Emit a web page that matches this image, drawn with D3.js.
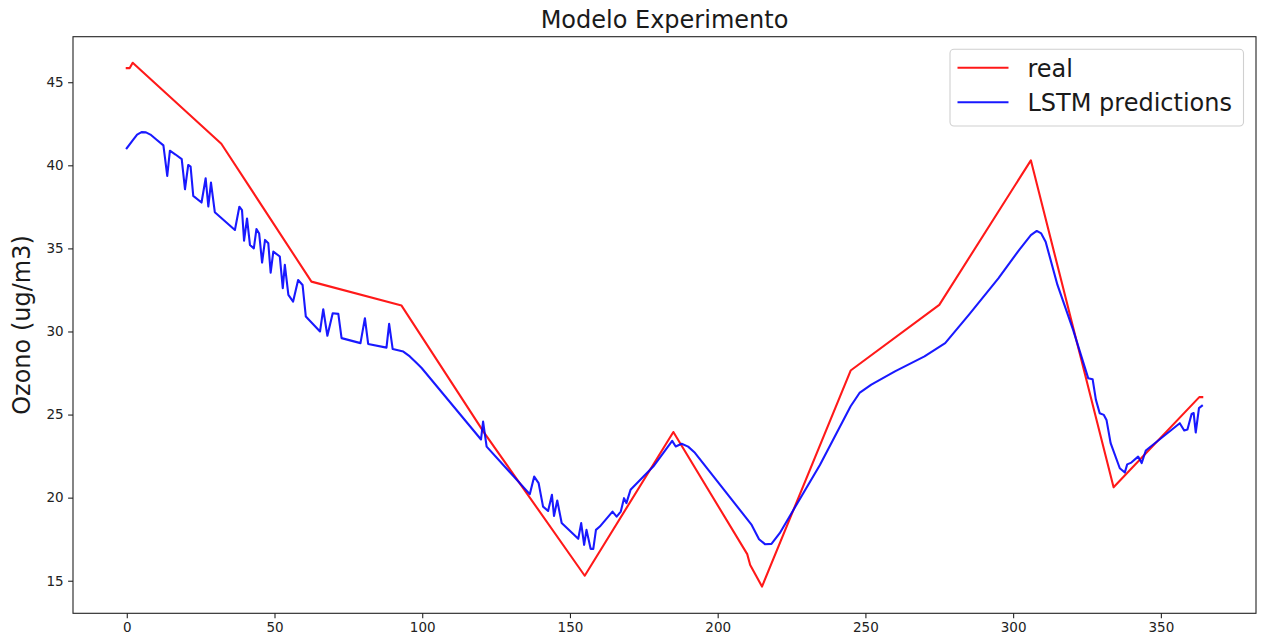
<!DOCTYPE html>
<html>
<head>
<meta charset="utf-8">
<script src="https://cdn.jsdelivr.net/npm/d3@7"></script>
<style>
  body { margin: 0; background: #fff; }
  svg { display: block; font-family: "DejaVu Sans", sans-serif; }
</style>
</head>
<body>
<svg id="chart" width="1262" height="643"></svg>
<script>
// ---- data ----
const title = "Modelo Experimento";
const yLabel = "Ozono (ug/m3)";
const seriesNames = ["real", "LSTM predictions"];
const xTicks = [0, 50, 100, 150, 200, 250, 300, 350];
const yTicks = [15, 20, 25, 30, 35, 40, 45];

// "real" series: day index and value at each vertex of the line
const realX = [0, 1, 2, 32, 62.5, 93, 121, 155, 185, 210, 211, 215, 245, 275, 306, 334, 363, 364];
const realY = [45.85, 45.85, 46.17, 41.3, 33.0, 31.56, 23.9, 15.3, 23.95, 16.6, 15.95, 14.65, 27.65, 31.6, 40.3, 20.62, 26.05, 26.05];

// "LSTM predictions" series
const predX = [0, 2, 3.5, 5, 6.5, 8, 10, 12.4, 13.7, 14.6, 16.5, 18.6, 19.7, 20.8, 21.6, 22.5, 25.3, 26.7, 27.6, 28.5, 29.8,
  36.6, 38.1, 39.0, 39.7, 40.7, 41.7, 43.0, 43.9, 44.8, 45.8, 46.8, 47.9, 48.7, 49.6, 51.8, 52.8, 53.5, 54.7, 56.3, 58.0, 59.5, 60.6,
  65.4, 66.5, 67.9, 69.7, 71.6, 72.7, 79.1, 80.6, 81.7, 87.9, 88.8, 90.0, 93.6, 95.8, 98.1, 99.8,
  119.9, 120.6, 121.8, 136.4, 137.9, 139.4, 140.9, 142.6, 143.9, 144.6, 145.7, 147.2, 152.8, 153.8, 154.8, 155.6, 157.0, 157.9, 158.8, 160.1,
  164.4, 165.8, 167.2, 168.3, 169.1, 170.5, 178.2, 184.6, 185.8, 187.8, 190.0, 192.3, 211.5, 214, 216, 218.2, 221, 234.6,
  245, 248, 252, 260, 270, 277, 285, 295, 302, 306, 308, 309.5, 311, 315, 320.3, 325.4, 326.9, 328, 329.3, 330.7, 331.6, 333,
  336.1, 337.8, 338.6, 340, 342.3, 343.5, 344.9, 356.4, 357.9, 359, 360.4, 361.1, 361.8, 362.9, 363.9];
const predY = [41.03, 41.5, 41.85, 42.0, 41.98, 41.85, 41.55, 41.2, 39.36, 40.88, 40.65, 40.37, 38.56, 40.02, 39.92, 38.16, 37.76, 39.22, 37.52, 38.96, 37.18,
  36.11, 37.51, 37.3, 35.47, 36.8, 35.2, 35.0, 36.17, 35.9, 34.15, 35.51, 35.31, 33.54, 34.81, 34.51, 32.6, 34.01, 32.2, 31.8, 33.1, 32.8, 30.9,
  30.0, 31.34, 29.74, 31.1, 31.06, 29.6, 29.3, 30.8, 29.25, 29.03, 30.46, 28.94, 28.79, 28.5, 28.1, 27.8,
  23.5, 24.58, 23.07, 20.21, 21.27, 20.87, 19.46, 19.2, 20.17, 18.9, 19.83, 18.47, 17.52, 18.47, 17.16, 18.06, 16.92, 16.92, 18.06, 18.26,
  19.16, 18.86, 19.16, 19.97, 19.67, 20.47, 21.87, 23.42, 23.08, 23.24, 23.07, 22.7, 18.36, 17.5, 17.2, 17.22, 17.86, 21.97,
  25.5, 26.3, 26.8, 27.6, 28.5, 29.3, 31.0, 33.2, 34.9, 35.8, 36.05, 35.9, 35.4, 32.8, 30.1, 27.19, 27.13, 25.9, 25.08, 24.98, 24.68, 23.28,
  21.77, 21.51, 22.0, 22.11, 22.47, 22.08, 22.84, 24.48, 24.04, 24.1, 25.03, 25.09, 23.92, 25.39, 25.53];

const colors = ["#ff0000", "#0000ff"];

// ---- layout ----
const svg = d3.select("#chart");
const L = 73, R = 1256, T = 36.7, B = 613.3;

const x = d3.scaleLinear().domain([-18.2, 382.2]).range([L, R]);
const y = d3.scaleLinear().domain([13.04, 47.74]).range([B, T]);

const realData = realX.map((d, i) => [d, realY[i]]);
const predData = predX.map((d, i) => [d, predY[i]]);

const line = d3.line().x(d => x(d[0])).y(d => y(d[1]));

svg.append("defs").append("clipPath").attr("id", "clip")
  .append("rect").attr("x", L).attr("y", T).attr("width", R - L).attr("height", B - T);

const plot = svg.append("g").attr("clip-path", "url(#clip)");
plot.append("path").datum(realData).attr("d", line)
  .attr("fill", "none").attr("stroke", colors[0]).attr("stroke-width", 2.1)
  .attr("stroke-linejoin", "round").attr("stroke-linecap", "square").attr("opacity", 0.9);
plot.append("path").datum(predData).attr("d", line)
  .attr("fill", "none").attr("stroke", colors[1]).attr("stroke-width", 2.1)
  .attr("stroke-linejoin", "round").attr("stroke-linecap", "square").attr("opacity", 0.9);

// axes
const xAxis = d3.axisBottom(x).tickValues(xTicks).tickSizeOuter(0).tickSize(4.9).tickPadding(4.5);
const yAxis = d3.axisLeft(y).tickValues(yTicks).tickSizeOuter(0).tickSize(4.9).tickPadding(4.5);

const gx = svg.append("g").attr("transform", `translate(0,${B})`).call(xAxis);
const gy = svg.append("g").attr("transform", `translate(${L},0)`).call(yAxis);
[gx, gy].forEach(g => {
  g.select(".domain").remove();
  g.selectAll(".tick line").attr("stroke", "#222").attr("stroke-width", 1.1);
  g.selectAll(".tick text").attr("fill", "#222").style("font-size", "13.5px")
    .style("font-family", "'DejaVu Sans', sans-serif");
});

// frame
svg.append("rect").attr("x", L).attr("y", T).attr("width", R - L).attr("height", B - T)
  .attr("fill", "none").attr("stroke", "#222").attr("stroke-width", 1.1);

// title
svg.append("text").attr("x", (L + R) / 2).attr("y", 28).attr("text-anchor", "middle")
  .style("font-size", "24px").attr("fill", "#1a1a1a").text(title);

// y label
svg.append("text").attr("transform", `translate(30,${(T + B) / 2}) rotate(-90)`)
  .attr("text-anchor", "middle").style("font-size", "24px").attr("fill", "#1a1a1a").text(yLabel);

// legend
const lg = svg.append("g");
lg.append("rect").attr("x", 950).attr("y", 49.3).attr("width", 293.5).attr("height", 76.7)
  .attr("rx", 4).attr("fill", "#fff").attr("fill-opacity", 0.8).attr("stroke", "#d0d0d0").attr("stroke-width", 1.1);
const legendRows = [67.7, 102.3];
seriesNames.forEach((name, i) => {
  lg.append("line").attr("x1", 957.5).attr("x2", 1008.5).attr("y1", legendRows[i]).attr("y2", legendRows[i])
    .attr("stroke", colors[i]).attr("stroke-width", 2.1).attr("opacity", 0.9);
  lg.append("text").attr("x", 1027.5).attr("y", legendRows[i] + 9)
    .style("font-size", "24px").attr("fill", "#1a1a1a").text(name);
});
</script>
</body>
</html>
